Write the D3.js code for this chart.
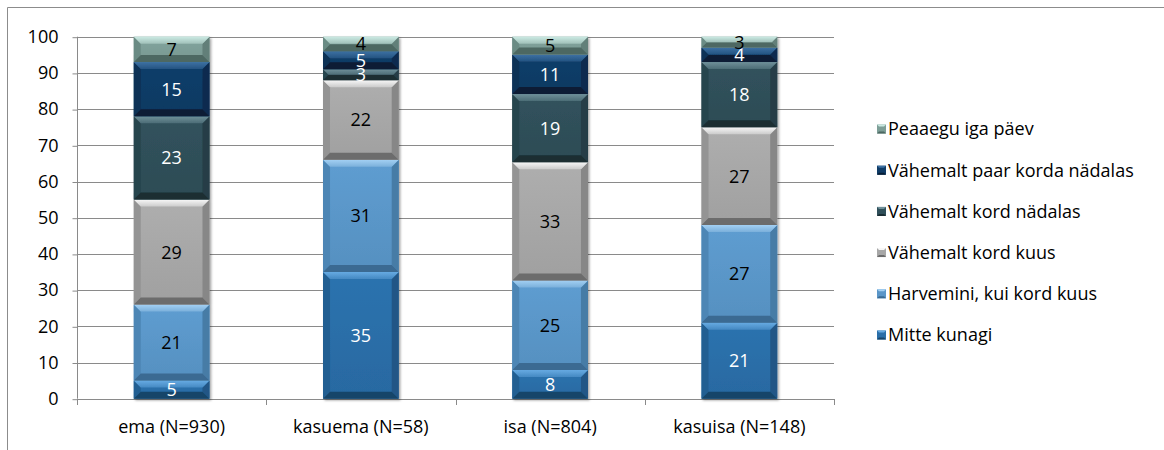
<!DOCTYPE html>
<html>
<head>
<meta charset="utf-8">
<script src="https://cdn.jsdelivr.net/npm/d3@7"></script>
<style>
  html, body { margin: 0; padding: 0; background: #fff; }
  svg { display: block; font-family: "Open Sans", "Noto Sans", sans-serif; }
</style>
</head>
<body>
<svg id="chart" width="1164" height="450"></svg>
<script>
// Respondent groups (x categories)
const categories = ["ema (N=930)", "kasuema (N=58)", "isa (N=804)", "kasuisa (N=148)"];

// Answer options, bottom of stack first
const seriesNames = [
  "Mitte kunagi",
  "Harvemini, kui kord kuus",
  "Vähemalt kord kuus",
  "Vähemalt kord nädalas",
  "Vähemalt paar korda nädalas",
  "Peaaegu iga päev"
];

// Percentages per answer option, one value per category
const mitteKunagi      = [5, 35, 8, 21];
const harvemini        = [21, 31, 25, 27];
const kordKuus         = [29, 22, 33, 27];
const kordNadalas      = [23, 3, 19, 18];
const paarKordaNadalas = [15, 5, 11, 4];
const peaaeguIgaPaev   = [7, 4, 5, 3];

const seriesValues = [mitteKunagi, harvemini, kordKuus, kordNadalas, paarKordaNadalas, peaaeguIgaPaev];

const yTicks = [0, 10, 20, 30, 40, 50, 60, 70, 80, 90, 100];

// Bevel palette per series: face, light top edge, dark bottom edge, side edge, label colour
const palette = [
  { face: "#2a6ea8", top: "#66aae2", bottom: "#174569", side: "#235f92", text: "#ffffff" },
  { face: "#5a96c8", top: "#a3d0f3", bottom: "#3a6a92", side: "#4d86b5", text: "#000000" },
  { face: "#a7a7a7", top: "#f7f7f7", bottom: "#6c6c6c", side: "#949494", text: "#000000" },
  { face: "#2f4f59", top: "#6f9099", bottom: "#1a2d33", side: "#28444d", text: "#ffffff" },
  { face: "#0f3b66", top: "#3d71a3", bottom: "#071e36", side: "#0b3056", text: "#ffffff" },
  { face: "#7d9e97", top: "#cbeae3", bottom: "#4d6862", side: "#6b8b84", text: "#000000" }
];

// Table rows for d3.stack
const rows = categories.map((c, i) => {
  const r = { category: c };
  seriesNames.forEach((s, k) => { r[s] = seriesValues[k][i]; });
  return r;
});

const stacked = d3.stack()
  .keys(seriesNames)
  .offset(d3.stackOffsetExpand)(rows);

const svg = d3.select("#chart");
const defs = svg.append("defs");

const plot = { left: 77, right: 834, top: 36.7, bottom: 398.7 };

const x = d3.scaleBand()
  .domain(categories)
  .range([plot.left, plot.right])
  .paddingInner(0.6)
  .paddingOuter(0.3);

const y = d3.scaleLinear()
  .domain([0, 100])
  .range([plot.bottom, plot.top]);

// Chart frame
svg.append("path")
  .attr("d", "M7.5,460 V7.5 H1170")
  .attr("fill", "none")
  .attr("stroke", "#8c8c8c")
  .attr("stroke-width", 1);

// Gridlines
svg.append("g")
  .selectAll("line")
  .data(yTicks)
  .join("line")
  .attr("x1", plot.left)
  .attr("x2", plot.right)
  .attr("y1", d => Math.round(y(d)) + 0.5)
  .attr("y2", d => Math.round(y(d)) + 0.5)
  .attr("stroke", "#8a8a8a")
  .attr("stroke-width", 1);

// Y axis
const yAxis = svg.append("g")
  .attr("transform", `translate(${plot.left + 0.5},0)`)
  .call(d3.axisLeft(y).tickValues(yTicks).tickSize(5).tickPadding(14));
yAxis.select(".domain").attr("stroke", "#8a8a8a").attr("d", `M0,${plot.top}V${plot.bottom}`);
yAxis.selectAll(".tick line").attr("stroke", "#8a8a8a").attr("transform", "translate(0,0.5)");
yAxis.selectAll(".tick text")
  .attr("font-size", 18)
  .attr("fill", "#000")
  .attr("font-family", "Open Sans");

// X axis line with ticks at band boundaries
const xg = svg.append("g");
xg.append("line")
  .attr("x1", plot.left).attr("x2", plot.right)
  .attr("y1", Math.round(plot.bottom) + 0.5).attr("y2", Math.round(plot.bottom) + 0.5)
  .attr("stroke", "#8a8a8a");
const step = x.step();
const boundaries = d3.range(categories.length + 1).map(i => plot.left + i * step);
xg.selectAll("line.tk")
  .data(boundaries)
  .join("line")
  .attr("class", "tk")
  .attr("x1", d => Math.round(d) + 0.5)
  .attr("x2", d => Math.round(d) + 0.5)
  .attr("y1", Math.round(plot.bottom))
  .attr("y2", Math.round(plot.bottom) + 6)
  .attr("stroke", "#8a8a8a");
xg.selectAll("text")
  .data(categories)
  .join("text")
  .attr("x", d => x(d) + x.bandwidth() / 2)
  .attr("y", 433)
  .attr("text-anchor", "middle")
  .attr("font-size", 18)
  .attr("fill", "#000")
  .text(d => d);

// Soft shadow under the bars
const shadow = defs.append("filter").attr("id", "barShadow")
  .attr("x", "-10%").attr("y", "-10%").attr("width", "130%").attr("height", "130%");
shadow.append("feDropShadow")
  .attr("dx", 1.5).attr("dy", 1.5).attr("stdDeviation", 1.2)
  .attr("flood-color", "#000").attr("flood-opacity", 0.35);

// Face gradients
palette.forEach((p, k) => {
  const g = defs.append("linearGradient").attr("id", "face" + k)
    .attr("x1", 0).attr("y1", 0).attr("x2", 0).attr("y2", 1);
  g.append("stop").attr("offset", 0).attr("stop-color", d3.color(p.face).brighter(0.12));
  g.append("stop").attr("offset", 1).attr("stop-color", d3.color(p.face).darker(0.12));
  const t = defs.append("linearGradient").attr("id", "top" + k)
    .attr("x1", 0).attr("y1", 0).attr("x2", 0).attr("y2", 1);
  t.append("stop").attr("offset", 0).attr("stop-color", p.top);
  t.append("stop").attr("offset", 1).attr("stop-color", d3.interpolateRgb(p.top, p.face)(0.55));
});

const bars = svg.append("g").attr("filter", "url(#barShadow)");

stacked.forEach((layer, k) => {
  const p = palette[k];
  layer.forEach((d, i) => {
    const cat = categories[i];
    const x0 = x(cat), x1 = x(cat) + x.bandwidth();
    const yT = y(d[1] * 100), yB = y(d[0] * 100);
    const h = yB - yT;
    const b = Math.min(7, h / 2);
    const seg = bars.append("g");
    seg.append("rect")
      .attr("x", x0).attr("y", yT)
      .attr("width", x1 - x0).attr("height", h)
      .attr("fill", `url(#face${k})`);
    // left and right edges
    seg.append("polygon")
      .attr("points", [[x0, yT], [x0 + b, yT + b], [x0 + b, yB - b], [x0, yB]].join(" "))
      .attr("fill", p.side);
    seg.append("polygon")
      .attr("points", [[x1, yT], [x1 - b, yT + b], [x1 - b, yB - b], [x1, yB]].join(" "))
      .attr("fill", d3.color(p.side).darker(0.25));
    // bottom edge
    seg.append("polygon")
      .attr("points", [[x0, yB], [x0 + b, yB - b], [x1 - b, yB - b], [x1, yB]].join(" "))
      .attr("fill", p.bottom);
    // top edge
    seg.append("polygon")
      .attr("points", [[x0, yT], [x1, yT], [x1 - b, yT + b], [x0 + b, yT + b]].join(" "))
      .attr("fill", `url(#top${k})`);
  });
});

// Value labels
const labels = svg.append("g");
stacked.forEach((layer, k) => {
  layer.forEach((d, i) => {
    const cat = categories[i];
    const v = seriesValues[k][i];
    labels.append("text")
      .attr("x", x(cat) + x.bandwidth() / 2)
      .attr("y", (y(d[0] * 100) + y(d[1] * 100)) / 2)
      .attr("dy", "0.36em")
      .attr("text-anchor", "middle")
      .attr("font-size", 18)
      .attr("fill", palette[k].text)
      .text(v);
  });
});

// Legend, top entry first
const legendY = d3.scalePoint()
  .domain(seriesNames.slice().reverse())
  .range([129, 335]);
const legend = svg.append("g");
seriesNames.forEach((s, k) => {
  const p = palette[k];
  const cy = legendY(s);
  const lg = legend.append("g");
  const sx = 877, sz = 9, sy = cy - sz / 2;
  lg.append("rect").attr("x", sx).attr("y", sy).attr("width", sz).attr("height", sz).attr("fill", p.face);
  lg.append("polygon")
    .attr("points", [[sx, sy], [sx + sz, sy], [sx + sz - 2, sy + 2], [sx + 2, sy + 2]].join(" "))
    .attr("fill", p.top);
  lg.append("polygon")
    .attr("points", [[sx, sy + sz], [sx + sz, sy + sz], [sx + sz - 2, sy + sz - 2], [sx + 2, sy + sz - 2]].join(" "))
    .attr("fill", p.bottom);
  lg.append("text")
    .attr("x", 888)
    .attr("y", cy)
    .attr("dy", "0.36em")
    .attr("font-size", 18)
    .attr("fill", "#000")
    .text(s);
});
</script>
</body>
</html>
